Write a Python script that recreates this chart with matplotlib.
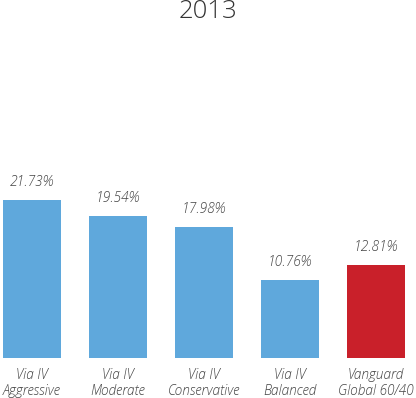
import matplotlib.pyplot as plt

# chart data
categories = ['Via IV\nAggressive', 'Via IV\nModerate', 'Via IV\nConservative',
              'Via IV\nBalanced', 'Vanguard\nGlobal 60/40']
returns = [21.73, 19.54, 17.98, 10.76, 12.81]
colors = ['#5FA8DC', '#5FA8DC', '#5FA8DC', '#5FA8DC', '#C9202A']

plt.rcParams['font.family'] = ['Open Sans', 'DejaVu Sans']

fig = plt.figure(figsize=(4.16, 3.98), dpi=100)
# axes spans the full width, baseline 40px above the bottom
ax = fig.add_axes([0, 40 / 398, 1, 218 / 398])

x = list(range(len(categories)))
bars = ax.bar(x, returns, width=0.674, color=colors)
ax.set_xlim(-0.372, 4.465)
ax.set_ylim(0, 30)

for xi, v in zip(x, returns):
    ax.annotate(f'{v:.2f}%', (xi, v), xytext=(0, 8), textcoords='offset points',
                ha='center', va='bottom', fontsize=10, style='italic',
                fontweight='light', color='#444444')

for xi, lab in zip(x, categories):
    ax.text(xi, -1.4, lab, ha='center', va='top', fontsize=9.8, style='italic',
            fontweight='light', color='#444444', linespacing=1.2)

ax.axis('off')
fig.text(0.5, 1 - 12 / 398, '2013', ha='center', va='center', fontsize=18.5,
         fontweight='light', color='#333333')

fig.savefig('out.png', dpi=100)
